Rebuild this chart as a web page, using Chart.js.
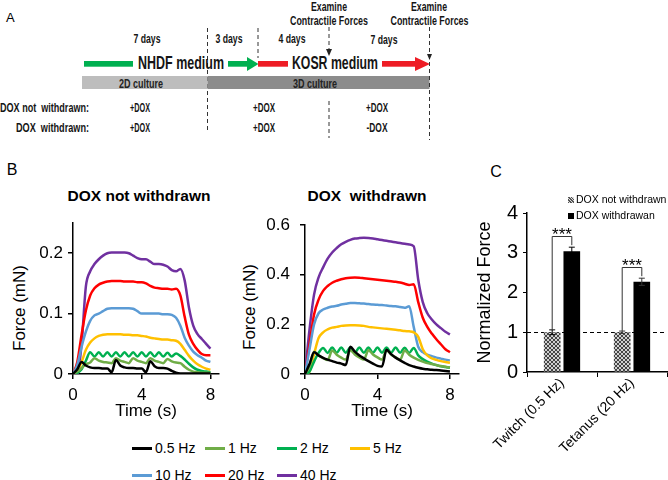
<!DOCTYPE html>
<html>
<head>
<meta charset="utf-8">
<script src="https://cdn.jsdelivr.net/npm/chart.js@4.4.1/dist/chart.umd.min.js"></script>
<style>
  body { margin: 0; background: #fff; }
  #fig { position: relative; width: 668px; height: 480px; overflow: hidden; font-family: "Liberation Sans", Arial, sans-serif; color: #000; }
  canvas { position: absolute; }
  .lbl { position: absolute; white-space: pre; line-height: 1; }
  .mid { transform: translate(-50%, -50%); }
  .ytitle { transform: translate(-50%, -50%) rotate(-90deg); }
  .sw { position: absolute; width: 20px; height: 3px; }
</style>
</head>
<body>
<div id="fig">
  <svg width="668" height="150" style="position:absolute;left:0;top:0">
    <text x="6" y="22" font-size="13" font-family="Liberation Sans, Arial, sans-serif">A</text>
    <g stroke="#333" stroke-width="1" stroke-dasharray="4,3" fill="none">
      <line x1="207.5" y1="28" x2="207.5" y2="133"/>
      <line x1="258" y1="28" x2="258" y2="58"/>
      <line x1="329" y1="27" x2="329" y2="50"/>
      <line x1="329" y1="101" x2="329" y2="138"/>
    </g>
    <polygon points="326,49 332,49 329,56" fill="#222"/>
    <rect x="84" y="61" width="49" height="5.7" fill="#00b050"/>
    <rect x="228" y="61" width="20" height="5.7" fill="#00b050"/>
    <polygon points="247,57 258.5,64 247,71" fill="#00b050"/>
    <rect x="258" y="61" width="30" height="5.7" fill="#ee1c25"/>
    <rect x="382" y="61" width="34" height="5.7" fill="#ee1c25"/>
    <polygon points="415,57 430,64 415,71" fill="#ee1c25"/>
    <rect x="82" y="76" width="125.5" height="13" fill="#bdbdbd"/>
    <rect x="207.5" y="76" width="222" height="13" fill="#8c8c8c"/>
    <g stroke="#333" stroke-width="1" stroke-dasharray="4,3" fill="none">
      <line x1="429.5" y1="27" x2="429.5" y2="140"/>
    </g>
    <polygon points="427,54 432,54 429.5,60" fill="#222"/>
    <g font-family="Liberation Sans, Arial, sans-serif" font-weight="bold" fill="#151515" text-anchor="middle">
      <text x="329" y="11" font-size="13" textLength="36" lengthAdjust="spacingAndGlyphs">Examine</text>
      <text x="329" y="25" font-size="13" textLength="78" lengthAdjust="spacingAndGlyphs">Contractile Forces</text>
      <text x="429" y="11" font-size="13" textLength="36" lengthAdjust="spacingAndGlyphs">Examine</text>
      <text x="429.5" y="25" font-size="13" textLength="78" lengthAdjust="spacingAndGlyphs">Contractile Forces</text>
      <text x="147" y="42.5" font-size="13" textLength="27" lengthAdjust="spacingAndGlyphs">7 days</text>
      <text x="229" y="42.5" font-size="13" textLength="27" lengthAdjust="spacingAndGlyphs">3 days</text>
      <text x="292" y="42.5" font-size="13" textLength="27" lengthAdjust="spacingAndGlyphs">4 days</text>
      <text x="384" y="43.5" font-size="13" textLength="27" lengthAdjust="spacingAndGlyphs">7 days</text>
      <text x="181" y="69" font-size="18" textLength="86" lengthAdjust="spacingAndGlyphs">NHDF medium</text>
      <text x="335" y="69" font-size="18" textLength="86" lengthAdjust="spacingAndGlyphs">KOSR medium</text>
      <text x="141" y="87.5" font-size="12.5" textLength="44" lengthAdjust="spacingAndGlyphs" fill="#222">2D culture</text>
      <text x="315" y="87.5" font-size="12.5" textLength="44" lengthAdjust="spacingAndGlyphs" fill="#222">3D culture</text>
      <text x="140" y="112" font-size="13" textLength="20" lengthAdjust="spacingAndGlyphs">+DOX</text>
      <text x="264" y="112" font-size="13" textLength="22" lengthAdjust="spacingAndGlyphs">+DOX</text>
      <text x="377" y="112" font-size="13" textLength="22" lengthAdjust="spacingAndGlyphs">+DOX</text>
      <text x="140" y="132" font-size="13" textLength="20" lengthAdjust="spacingAndGlyphs">+DOX</text>
      <text x="264" y="132" font-size="13" textLength="22" lengthAdjust="spacingAndGlyphs">+DOX</text>
      <text x="377" y="132" font-size="13" textLength="21" lengthAdjust="spacingAndGlyphs">-DOX</text>
    </g>
    <g font-family="Liberation Sans, Arial, sans-serif" font-weight="bold" fill="#151515" text-anchor="end">
      <text x="89" y="112" font-size="13" textLength="89" lengthAdjust="spacingAndGlyphs" xml:space="preserve">DOX not  withdrawn:</text>
      <text x="89" y="132" font-size="13" textLength="73" lengthAdjust="spacingAndGlyphs" xml:space="preserve">DOX  withdrawn:</text>
    </g>
  </svg>

  <div class="lbl mid" style="left:12px;top:170px;font-size:16px">B</div>
  <div class="lbl mid" style="left:496px;top:172px;font-size:16px">C</div>
  <div class="lbl mid" style="left:139px;top:196px;font-size:15.5px;font-weight:bold">DOX not withdrawn</div>
  <div class="lbl mid" style="left:367px;top:196px;font-size:15.5px;font-weight:bold">DOX  withdrawn</div>
  <div class="lbl ytitle" style="left:19px;top:308px;font-size:17px">Force (mN)</div>
  <div class="lbl ytitle" style="left:249px;top:307px;font-size:17px">Force (mN)</div>

  <canvas id="chartNotWithdrawn" width="230" height="220" style="left:0;top:205px"></canvas>
  <canvas id="chartWithdrawn" width="236" height="220" style="left:232px;top:205px"></canvas>
  <canvas id="chartNormalized" width="208" height="290" style="left:460px;top:190px"></canvas>

  <div id="cLegend"></div>
  <div id="bLegend"></div>
</div>

<script>
// time axis (s) shared by every trace in panel B
const timeS = [0, 0.25, 0.5, 0.75, 1, 1.25, 1.5, 1.75, 2, 2.25, 2.5, 2.75, 3, 3.25, 3.5, 3.75, 4,
  4.25, 4.5, 4.75, 5, 5.25, 5.5, 5.75, 6, 6.25, 6.5, 6.75, 7, 7.25, 7.5, 7.75, 8];
const timeTicks = [0, 4, 8];

const freqLabels = ['0.5 Hz', '1 Hz', '2 Hz', '5 Hz', '10 Hz', '20 Hz', '40 Hz'];
const freqColors = ['#000000', '#70ad47', '#00b050', '#ffc000', '#5b9bd5', '#ff0000', '#7030a0'];

// DOX not withdrawn, force (mN)
const nw05 = [0, 0.008, 0.02, 0.014, 0.011, 0.01, 0.01, 0.009, 0.009, 0.003, 0.023, 0.014, 0.011, 0.01, 0.01, 0.009, 0.009,
  0.003, 0.021, 0.013, 0.01, 0.01, 0.009, 0.005, 0.002, 0.001, 0.001, 0.001, 0.001, 0.001, 0.001, 0.001, 0.001];
const nw1 = [0, 0.004, 0.01, 0.016, 0.019, 0.026, 0.022, 0.02, 0.019, 0.018, 0.026, 0.022, 0.02, 0.018, 0.026, 0.022, 0.02,
  0.018, 0.026, 0.022, 0.02, 0.018, 0.025, 0.021, 0.019, 0.018, 0.012, 0.007, 0.004, 0.003, 0.002, 0.002, 0.002];
const nw2 = [0, 0.002, 0.008, 0.022, 0.036, 0.029, 0.036, 0.029, 0.036, 0.029, 0.036, 0.029, 0.036, 0.029, 0.036, 0.029, 0.036,
  0.029, 0.036, 0.029, 0.036, 0.029, 0.035, 0.029, 0.034, 0.03, 0.024, 0.017, 0.011, 0.007, 0.005, 0.004, 0.003];
const nw5 = [0, 0.005, 0.02, 0.04, 0.052, 0.059, 0.063, 0.065, 0.066, 0.066, 0.066, 0.066, 0.065, 0.065, 0.064, 0.064, 0.063,
  0.062, 0.06, 0.059, 0.058, 0.057, 0.057, 0.056, 0.055, 0.05, 0.04, 0.03, 0.022, 0.016, 0.012, 0.009, 0.007];
const nw10 = [0, 0.015, 0.045, 0.07, 0.088, 0.097, 0.1, 0.104, 0.108, 0.109, 0.109, 0.109, 0.109, 0.109, 0.108, 0.104, 0.1,
  0.1, 0.1, 0.1, 0.1, 0.099, 0.099, 0.098, 0.093, 0.08, 0.06, 0.047, 0.037, 0.031, 0.027, 0.022, 0.02];
const nw20 = [0, 0.02, 0.065, 0.105, 0.13, 0.142, 0.148, 0.151, 0.153, 0.154, 0.154, 0.154, 0.153, 0.153, 0.153, 0.152, 0.152,
  0.15, 0.146, 0.143, 0.142, 0.141, 0.141, 0.14, 0.141, 0.13, 0.095, 0.065, 0.05, 0.04, 0.033, 0.031, 0.031];
const nw40 = [0, 0, 0.05, 0.145, 0.17, 0.182, 0.19, 0.196, 0.2, 0.201, 0.201, 0.201, 0.201, 0.2, 0.196, 0.192, 0.19,
  0.19, 0.186, 0.182, 0.182, 0.181, 0.178, 0.172, 0.17, 0.174, 0.155, 0.11, 0.08, 0.066, 0.058, 0.05, 0.042];

// DOX withdrawn, force (mN)
const w05 = [0, 0.04, 0.088, 0.075, 0.065, 0.058, 0.052, 0.046, 0.042, 0.036, 0.11, 0.09, 0.075, 0.063, 0.052, 0.042, 0.033,
  0.03, 0.098, 0.08, 0.066, 0.055, 0.045, 0.036, 0.03, 0.025, 0.021, 0.019, 0.017, 0.016, 0.014, 0.012, 0.01];
const w1 = [0, 0.03, 0.09, 0.075, 0.064, 0.056, 0.095, 0.078, 0.066, 0.058, 0.096, 0.079, 0.067, 0.058, 0.096, 0.079, 0.067,
  0.058, 0.096, 0.079, 0.067, 0.058, 0.095, 0.078, 0.066, 0.057, 0.05, 0.044, 0.04, 0.036, 0.032, 0.029, 0.026];
const w2 = [0, 0.01, 0.05, 0.085, 0.105, 0.085, 0.107, 0.086, 0.107, 0.086, 0.107, 0.086, 0.107, 0.086, 0.107, 0.086, 0.107,
  0.086, 0.107, 0.086, 0.107, 0.086, 0.106, 0.085, 0.105, 0.075, 0.06, 0.05, 0.042, 0.036, 0.031, 0.028, 0.025];
const w5 = [0, 0.01, 0.08, 0.145, 0.168, 0.18, 0.187, 0.19, 0.194, 0.196, 0.197, 0.197, 0.196, 0.194, 0.19, 0.188, 0.186,
  0.184, 0.182, 0.18, 0.178, 0.176, 0.173, 0.172, 0.168, 0.15, 0.1, 0.075, 0.063, 0.057, 0.052, 0.048, 0.045];
const w10 = [0, 0.1, 0.2, 0.245, 0.26, 0.267, 0.272, 0.275, 0.28, 0.283, 0.286, 0.286, 0.285, 0.284, 0.282, 0.28, 0.279,
  0.278, 0.276, 0.274, 0.273, 0.27, 0.267, 0.273, 0.19, 0.11, 0.088, 0.078, 0.072, 0.066, 0.062, 0.058, 0.055];
const w20 = [0, 0.12, 0.24, 0.3, 0.335, 0.355, 0.368, 0.376, 0.382, 0.386, 0.388, 0.389, 0.388, 0.386, 0.384, 0.382, 0.38,
  0.378, 0.376, 0.374, 0.372, 0.369, 0.364, 0.359, 0.362, 0.29, 0.227, 0.19, 0.163, 0.14, 0.12, 0.1, 0.088];
const w40 = [0, 0.18, 0.32, 0.39, 0.43, 0.465, 0.49, 0.508, 0.523, 0.533, 0.541, 0.546, 0.548, 0.549, 0.548, 0.546, 0.543,
  0.54, 0.537, 0.534, 0.531, 0.528, 0.525, 0.522, 0.515, 0.38, 0.29, 0.245, 0.22, 0.2, 0.185, 0.17, 0.16];

const notWithdrawnTicks = [0, 0.1, 0.2];
const withdrawnTicks = [0, 0.2, 0.4, 0.6];

// panel C
const barGroups = ['Twitch (0.5 Hz)', 'Tetanus (20 Hz)'];
const barSeries = ['DOX not withdrawn', 'DOX withdrawan'];
const barNotWithdrawn = [1.0, 1.0];
const barWithdrawn = [3.04, 2.27];
const errNotWithdrawn = [0.06, 0.03];
const errWithdrawn = [0.1, 0.09];
const normTicks = [0, 1, 2, 3, 4];

Chart.defaults.font.family = "'Liberation Sans', Arial, sans-serif";
Chart.defaults.color = '#000';

const fixTicks = list => scale => { scale.ticks = list.map(v => ({ value: v })); };

function forceChart(id, series, yMax, yTicks, labelPad, rightPad) {
    const ctx = document.getElementById(id).getContext('2d');
    return new Chart(ctx, {
        type: 'line',
        data: {
            datasets: series.map((vals, i) => ({
                label: freqLabels[i],
                data: vals.map((v, k) => ({ x: timeS[k], y: v })),
                borderColor: freqColors[i],
                borderWidth: 2.5,
                pointRadius: 0,
                cubicInterpolationMode: 'monotone',
                fill: false
            }))
        },
        options: {
            responsive: false,
            animation: false,
            layout: { padding: { top: 18, right: rightPad, left: 0, bottom: 0 } },
            plugins: { legend: { display: false }, tooltip: { enabled: false } },
            scales: {
                x: {
                    type: 'linear', min: 0, max: 8.5,
                    afterBuildTicks: fixTicks(timeTicks),
                    afterFit: s => { s.height = 51; },
                    grid: { drawOnChartArea: false, tickLength: 5, color: '#000', lineWidth: 1.5 },
                    border: { color: '#000', width: 1.5 },
                    ticks: { font: { size: 17 }, padding: 6, maxRotation: 0 },
                    title: { display: true, text: 'Time (s)', font: { size: 17 }, padding: { top: 0, bottom: 3 } }
                },
                y: {
                    min: 0, max: yMax,
                    afterBuildTicks: fixTicks(yTicks),
                    afterFit: s => { s.width = 73; },
                    grid: { drawOnChartArea: false, tickLength: 5, color: '#000', lineWidth: 1.5 },
                    border: { color: '#000', width: 1.5 },
                    ticks: { font: { size: 17 }, padding: labelPad }
                }
            }
        }
    });
}

forceChart('chartNotWithdrawn', [nw05, nw1, nw2, nw5, nw10, nw20, nw40], 0.25, notWithdrawnTicks, 5, 11);
forceChart('chartWithdrawn', [w05, w1, w2, w5, w10, w20, w40], 0.6, withdrawnTicks, 10, 9);

function hatchPattern(ctx) {
    const c = document.createElement('canvas');
    c.width = 4; c.height = 4;
    const g = c.getContext('2d');
    g.fillStyle = '#cfcfcf';
    g.fillRect(0, 0, 4, 4);
    g.fillStyle = '#444';
    for (let i = 0; i < 4; i++) {
        g.fillRect(i, i, 1, 1);
        g.fillRect(3 - i, i, 1, 1);
    }
    return ctx.createPattern(c, 'repeat');
}

// error bars, significance brackets and the dashed reference line at 1
const sigMarks = {
    id: 'sigMarks',
    beforeDatasetsDraw(chart) {
        const { ctx, chartArea, scales: { y } } = chart;
        const py = Math.round(y.getPixelForValue(1)) + 0.5;
        ctx.save();
        ctx.setLineDash([4, 3]);
        ctx.strokeStyle = '#000';
        ctx.lineWidth = 1;
        ctx.beginPath();
        ctx.moveTo(chartArea.left, py);
        ctx.lineTo(chartArea.right, py);
        ctx.stroke();
        ctx.restore();
    },
    afterDatasetsDraw(chart) {
        const { ctx, scales: { y } } = chart;
        const metaA = chart.getDatasetMeta(0);
        const metaB = chart.getDatasetMeta(1);
        ctx.save();
        ctx.strokeStyle = '#000';
        ctx.lineWidth = 1;
        barGroups.forEach((g, i) => {
            const xa = metaA.data[i].x;
            const xb = metaB.data[i].x;
            [[xa, barNotWithdrawn[i], errNotWithdrawn[i]], [xb, barWithdrawn[i], errWithdrawn[i]]].forEach(([x, v, e]) => {
                const hi = y.getPixelForValue(v + e);
                const lo = y.getPixelForValue(v - e);
                ctx.beginPath();
                ctx.moveTo(x, lo); ctx.lineTo(x, hi);
                ctx.moveTo(x - 3, hi); ctx.lineTo(x + 3, hi);
                ctx.moveTo(x - 3, lo); ctx.lineTo(x + 3, lo);
                ctx.stroke();
            });
            const top = Math.round(y.getPixelForValue(barWithdrawn[i] + errWithdrawn[i] + 0.28)) + 0.5;
            const l0 = y.getPixelForValue(barNotWithdrawn[i] + errNotWithdrawn[i]);
            const r0 = y.getPixelForValue(barWithdrawn[i] + errWithdrawn[i] + 0.05);
            ctx.strokeStyle = '#333';
            ctx.beginPath();
            ctx.moveTo(xa, l0); ctx.lineTo(xa, top); ctx.lineTo(xb, top); ctx.lineTo(xb, r0);
            ctx.stroke();
            ctx.fillStyle = '#000';
            ctx.font = "17px 'Liberation Sans', Arial, sans-serif";
            ctx.textAlign = 'center';
            ctx.textBaseline = 'middle';
            ctx.fillText('***', (xa + xb) / 2, top - 1);
        });
        ctx.restore();
    }
};

const normCtx = document.getElementById('chartNormalized').getContext('2d');
new Chart(normCtx, {
    type: 'bar',
    data: {
        labels: barGroups,
        datasets: [
            { label: barSeries[0], data: barNotWithdrawn, backgroundColor: hatchPattern(normCtx), borderWidth: 0 },
            { label: barSeries[1], data: barWithdrawn, backgroundColor: '#000', borderWidth: 0 }
        ]
    },
    options: {
        responsive: false,
        animation: false,
        datasets: { bar: { categoryPercentage: 0.56, barPercentage: 0.85 } },
        layout: { padding: { top: 23, right: 1, left: 0, bottom: 0 } },
        plugins: { legend: { display: false }, tooltip: { enabled: false } },
        scales: {
            x: {
                grid: { offset: true, drawOnChartArea: false, tickLength: 5, color: '#000' },
                border: { color: '#000', width: 1.5 },
                ticks: { font: { size: 14 }, minRotation: 45, maxRotation: 45, padding: -2, autoSkip: false },
                afterFit: s => { s.height = 108; }
            },
            y: {
                min: 0, max: 4,
                afterBuildTicks: fixTicks(normTicks),
                afterFit: s => { s.width = 67; },
                grid: { drawOnChartArea: false, tickLength: 4, color: '#000' },
                border: { color: '#000', width: 1.5 },
                ticks: { font: { size: 20 }, padding: 5 },
                title: { display: true, text: 'Normalized Force', font: { size: 18 }, padding: { top: 14, bottom: 0 } }
            }
        }
    },
    plugins: [sigMarks]
});

// legends as plain html
const cLegend = document.getElementById('cLegend');
barSeries.forEach((name, i) => {
    const top = 200 + i * 16;
    const mark = document.createElement('div');
    mark.style.cssText = `position:absolute;left:568px;top:${top - 3}px;width:6px;height:6px;` +
        (i === 0 ? 'background:repeating-linear-gradient(45deg,#555 0 1px,#ddd 1px 2px);' : 'background:#000;');
    cLegend.appendChild(mark);
    const txt = document.createElement('div');
    txt.className = 'lbl';
    txt.style.cssText = `left:576px;top:${top - 6}px;font-size:10.5px;`;
    txt.textContent = name;
    cLegend.appendChild(txt);
});

const bLegend = document.getElementById('bLegend');
const swatchX = [132, 205, 277, 350];
freqLabels.forEach((name, i) => {
    const row = Math.floor(i / 4);
    const col = i % 4;
    const cy = 448 + row * 27;
    const sw = document.createElement('div');
    sw.className = 'sw';
    sw.style.cssText = `left:${swatchX[col]}px;top:${cy - 1.5}px;background:${freqColors[i]};`;
    bLegend.appendChild(sw);
    const txt = document.createElement('div');
    txt.className = 'lbl';
    txt.style.cssText = `left:${swatchX[col] + 23}px;top:${cy - 7}px;font-size:14px;`;
    txt.textContent = name;
    bLegend.appendChild(txt);
});
</script>
</body>
</html>
